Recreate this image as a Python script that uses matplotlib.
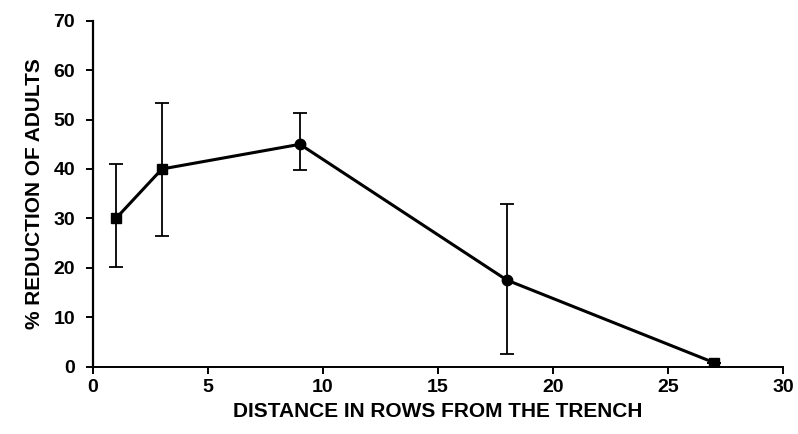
import matplotlib.pyplot as plt

# distance (rows) vs % reduction, with upper/lower error limits
rows = [1, 3, 9, 18, 27]
reduction = [30, 40, 45, 17.5, 0.8]
err_low = [20.2, 26.4, 39.8, 2.6, 0.8]
err_high = [41, 53.3, 51.3, 33, 0.8]
markers = ['s', 's', 'o', 'o', 's']

plt.rcParams['font.family'] = ['Liberation Sans', 'DejaVu Sans']

fig = plt.figure(figsize=(7.98, 4.34), dpi=100)
ax = fig.add_axes([0.1165, 0.1555, 0.8645, 0.7965])

yerr = [[r - lo for r, lo in zip(reduction, err_low)],
        [hi - r for r, hi in zip(reduction, err_high)]]
ax.errorbar(rows, reduction, yerr=yerr, fmt='none', ecolor='black',
            elinewidth=1.3, capsize=5, capthick=1.3, zorder=2)
ax.plot(rows, reduction, color='black', lw=2.2, zorder=3)
for x, y, m in zip(rows, reduction, markers):
    ax.plot(x, y, marker=m, color='black', ms=7 if m == 's' else 7.5, zorder=4)

ax.set_xlim(0, 30)
ax.set_ylim(0, 70)
ax.set_xticks(range(0, 31, 5))
ax.set_yticks(range(0, 71, 10))

for s in ['top', 'right']:
    ax.spines[s].set_visible(False)
ax.spines['left'].set_linewidth(1.6)
ax.spines['bottom'].set_linewidth(1.4)
ax.tick_params(direction='out', width=1.4, labelsize=14)
ax.tick_params(axis='y', length=5, pad=8)
ax.tick_params(axis='x', length=5, pad=4)
for lbl in ax.get_xticklabels() + ax.get_yticklabels():
    lbl.set_fontweight('bold')

ax.set_xlabel('DISTANCE IN ROWS FROM THE TRENCH', fontsize=15, fontweight='bold', labelpad=4)
ax.set_ylabel('% REDUCTION OF ADULTS', fontsize=15, fontweight='bold', labelpad=7)

fig.savefig('out.png', dpi=100)
